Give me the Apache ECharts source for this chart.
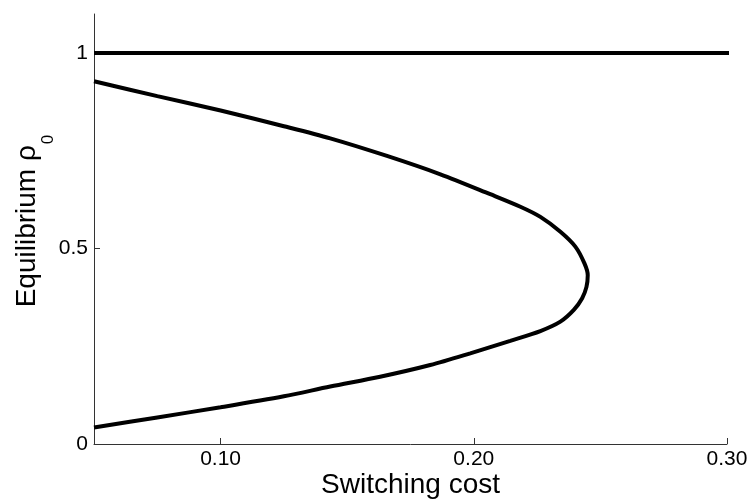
<!DOCTYPE html>
<html>
<head>
<meta charset="utf-8">
<script src="https://cdn.jsdelivr.net/npm/echarts@6/dist/echarts.min.js"></script>
<style>html,body{margin:0;padding:0;background:#fff;}#c{width:753px;height:504px;}</style>
</head>
<body>
<div id="c"></div>
<script>
// Equilibrium branches, ordered along the curve
var curveCost = [0.050, 0.075, 0.100, 0.125, 0.1433, 0.1657, 0.1868, 0.2065, 0.2184, 0.2263, 0.2342, 0.2401, 0.2437, 0.2450, 0.2445, 0.2428, 0.2395, 0.2342, 0.2263, 0.2144, 0.1986, 0.1828, 0.1630, 0.1433, 0.125, 0.100, 0.075, 0.050];
var curveRho  = [0.928, 0.890, 0.853, 0.813, 0.782, 0.737, 0.690, 0.639, 0.607, 0.581, 0.543, 0.505, 0.462, 0.432, 0.402, 0.373, 0.343, 0.313, 0.289, 0.264, 0.232, 0.202, 0.172, 0.147, 0.122, 0.094, 0.068, 0.042];
// Upper equilibrium rho0 = 1
var flatCost = [0.05, 0.31];
var flatRho  = [1, 1];
// Tick labels
var xTickValues = [0.10, 0.20, 0.30];
var xTickLabels = ['0.10', '0.20', '0.30'];
var yTickValues = [0, 0.5, 1];
var yTickLabels = ['0', '0.5', '1'];

var font = "'Liberation Sans', Arial, sans-serif";
function pairs(xs, ys) { return xs.map(function (x, i) { return [x, ys[i]]; }); }
function lookup(vals, labels) {
  return function (v) {
    for (var i = 0; i < vals.length; i++) if (Math.abs(vals[i] - v) < 1e-9) return labels[i];
    return '';
  };
}

var chart = echarts.init(document.getElementById('c'), null, { renderer: 'canvas' });
chart.setOption({
  animation: false,
  backgroundColor: '#ffffff',
  grid: { left: 94, right: 26, top: 14, bottom: 60, containLabel: false, outerBoundsMode: 'none' },
  xAxis: {
    type: 'value', min: 0.05, max: 0.30,
    name: 'Switching cost', nameLocation: 'middle', nameGap: 27, nameMoveOverlap: false,
    nameTextStyle: { fontFamily: font, fontSize: 28, color: '#000' },
    axisLine: { show: true, onZero: false, lineStyle: { color: '#333', width: 1 } },
    axisTick: { show: true, inside: true, length: 6, customValues: xTickValues, lineStyle: { color: '#333' } },
    axisLabel: { customValues: xTickValues, formatter: lookup(xTickValues, xTickLabels), fontFamily: font, fontSize: 21, color: '#000', margin: 5 },
    splitLine: { show: false }
  },
  yAxis: {
    type: 'value', min: 0, max: 1.1,
    name: '{a|Equilibrium ρ}{s|0}', nameLocation: 'middle', nameGap: 53, nameRotate: 90, nameMoveOverlap: false,
    nameTextStyle: {
      fontFamily: font, color: '#000', padding: [0, 0, 0, 16],
      rich: {
        a: { fontFamily: font, fontSize: 28, color: '#000', verticalAlign: 'top', lineHeight: 28 },
        s: { fontFamily: font, fontSize: 17, color: '#000', verticalAlign: 'top', lineHeight: 17, padding: [27, 0, 0, 1] }
      }
    },
    axisLine: { show: true, onZero: false, lineStyle: { color: '#333', width: 1 } },
    axisTick: { show: true, inside: true, length: 6, customValues: [0.5, 1], lineStyle: { color: '#333' } },
    axisLabel: { customValues: yTickValues, formatter: lookup(yTickValues, yTickLabels), fontFamily: font, fontSize: 21, color: '#000', margin: 6 },
    splitLine: { show: false }
  },
  series: [
    {
      type: 'line', data: pairs(flatCost, flatRho), showSymbol: false, clip: false,
      lineStyle: { color: '#000', width: 4 }
    },
    {
      type: 'line', data: pairs(curveCost, curveRho), showSymbol: false, smooth: 0.3, clip: false,
      lineStyle: { color: '#000', width: 4 }
    }
  ]
});
</script>
</body>
</html>
